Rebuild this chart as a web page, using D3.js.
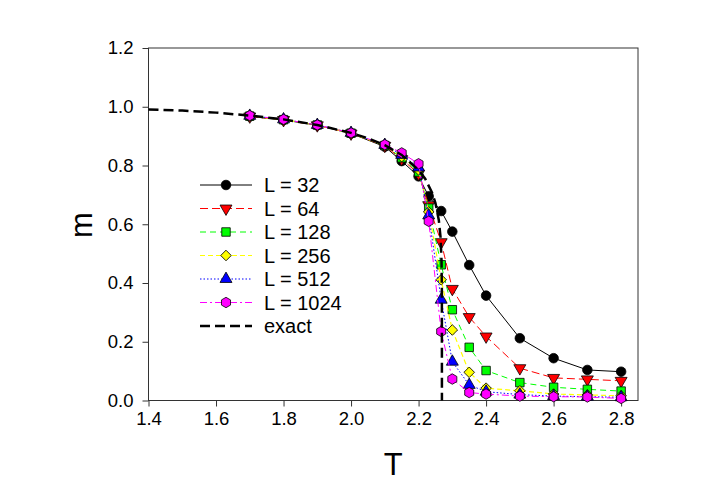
<!DOCTYPE html>
<html>
<head>
<meta charset="utf-8">
<script src="https://cdn.jsdelivr.net/npm/d3@7"></script>
<style>
  body { margin: 0; background: #fff; }
  text { font-family: Arial, "Liberation Sans", sans-serif; }
</style>
</head>
<body>
<svg id="chart"></svg>
<script>
// temperatures of the simulations
const temps = [1.7, 1.8, 1.9, 2.0, 2.1, 2.15, 2.2, 2.23, 2.267, 2.3, 2.35, 2.4, 2.5, 2.6, 2.7, 2.8];

const m32 = [0.967, 0.955, 0.937, 0.909, 0.864, 0.815, 0.763, 0.695, 0.645, 0.575, 0.461, 0.357, 0.212, 0.144, 0.104, 0.098];
const m64 = [0.967, 0.955, 0.937, 0.909, 0.867, 0.822, 0.772, 0.665, 0.539, 0.380, 0.284, 0.218, 0.110, 0.077, 0.072, 0.067];
const m128 = [0.968, 0.956, 0.938, 0.910, 0.868, 0.826, 0.778, 0.655, 0.462, 0.309, 0.181, 0.102, 0.061, 0.045, 0.038, 0.032];
const m256 = [0.968, 0.956, 0.938, 0.910, 0.869, 0.830, 0.785, 0.642, 0.411, 0.240, 0.096, 0.042, 0.033, 0.022, 0.019, 0.016];
const m512 = [0.969, 0.957, 0.938, 0.911, 0.870, 0.836, 0.793, 0.630, 0.343, 0.132, 0.053, 0.030, 0.020, 0.015, 0.013, 0.011];
const m1024 = [0.970, 0.957, 0.938, 0.911, 0.871, 0.843, 0.806, 0.610, 0.235, 0.073, 0.027, 0.022, 0.015, 0.013, 0.012, 0.007];

// exact (Onsager) curve
const exactT = [1.4, 1.5, 1.6, 1.7, 1.8, 1.9, 2.0, 2.05, 2.1, 2.15, 2.2, 2.22, 2.24, 2.25, 2.26, 2.265, 2.268, 2.269, 2.2692];
const exactM = [0.991, 0.987, 0.980, 0.970, 0.957, 0.938, 0.911, 0.893, 0.869, 0.836, 0.785, 0.754, 0.707, 0.672, 0.614, 0.557, 0.476, 0.377, 0.0];

const labels = ["L = 32", "L = 64", "L = 128", "L = 256", "L = 512", "L = 1024"];
const xTicks = [1.4, 1.6, 1.8, 2.0, 2.2, 2.4, 2.6, 2.8];
const yTicks = [0.0, 0.2, 0.4, 0.6, 0.8, 1.0, 1.2];

const W = 705, H = 498;
const plot = { left: 148.5, right: 638, top: 48, bottom: 400.5 };

const svg = d3.select("#chart").attr("width", W).attr("height", H);

const x = d3.scaleLinear().domain([1.4, 2.85]).range([plot.left, plot.right]);
const y = d3.scaleLinear().domain([0, 1.2]).range([plot.bottom, plot.top]);

// axes
const xAxis = svg.append("g")
  .attr("transform", `translate(0,${plot.bottom})`)
  .call(d3.axisBottom(x).tickValues(xTicks).tickFormat(d3.format(".1f")).tickSize(6).tickPadding(5));
const yAxis = svg.append("g")
  .attr("transform", `translate(${plot.left},0)`)
  .call(d3.axisLeft(y).tickValues(yTicks).tickFormat(d3.format(".1f")).tickSize(6).tickPadding(9));

[xAxis, yAxis].forEach((g) => {
  g.select(".domain").remove();
  g.selectAll(".tick line").attr("stroke", "#333");
  g.selectAll("text").attr("font-size", "18.5px").attr("fill", "#000")
    .attr("font-family", "Arial, 'Liberation Sans', sans-serif");
});

svg.append("rect")
  .attr("x", plot.left).attr("y", plot.top)
  .attr("width", plot.right - plot.left).attr("height", plot.bottom - plot.top)
  .attr("fill", "none").attr("stroke", "#333").attr("stroke-width", 1);

svg.append("text")
  .attr("x", (plot.left + plot.right) / 2 - 0)
  .attr("y", 475)
  .attr("text-anchor", "middle")
  .attr("font-size", "31px")
  .text("T");

svg.append("text")
  .attr("transform", "translate(92,225) rotate(-90)")
  .attr("text-anchor", "middle")
  .attr("font-size", "31px")
  .text("m");

// marker shapes
function hexagon(r) {
  const pts = d3.range(6).map((i) => {
    const a = Math.PI / 6 + i * Math.PI / 3;
    return [r * Math.cos(a), r * Math.sin(a)];
  });
  return "M" + pts.map((p) => p.join(",")).join("L") + "Z";
}
const tri = d3.symbol().type(d3.symbolTriangle).size(62)();
const series = [
  { vals: m32, color: "#000", dash: null, width: 1, shape: d3.symbol().type(d3.symbolCircle).size(72)(), rot: 0 },
  { vals: m64, color: "#ff0000", dash: "8,4", width: 1, shape: tri, rot: 180 },
  { vals: m128, color: "#00ff00", dash: "6,4", width: 1, shape: d3.symbol().type(d3.symbolSquare).size(72)(), rot: 0 },
  { vals: m256, color: "#ffff00", dash: "5,3", width: 1.2, shape: d3.symbol().type(d3.symbolSquare).size(56)(), rot: 45 },
  { vals: m512, color: "#0000ff", dash: "1.5,2", width: 1, shape: tri, rot: 0 },
  { vals: m1024, color: "#ff00ff", dash: "7,3,2,3", width: 1, shape: hexagon(5.2), rot: 0 }
];

const line = d3.line().x((d) => x(d[0])).y((d) => y(d[1]));

series.forEach((s) => {
  const pts = temps.map((t, i) => [t, s.vals[i]]);
  svg.append("path")
    .attr("d", line(pts))
    .attr("fill", "none")
    .attr("stroke", s.color)
    .attr("stroke-width", s.width)
    .attr("stroke-dasharray", s.dash);
  svg.append("g").selectAll("path").data(pts).enter().append("path")
    .attr("d", s.shape)
    .attr("transform", (d) => `translate(${x(d[0])},${y(d[1])}) rotate(${s.rot})`)
    .attr("fill", s.color)
    .attr("stroke", "#000")
    .attr("stroke-width", 0.8);
});

// exact curve
svg.append("path")
  .attr("d", line(exactT.map((t, i) => [t, exactM[i]])))
  .attr("fill", "none")
  .attr("stroke", "#000")
  .attr("stroke-width", 2.5)
  .attr("stroke-dasharray", "10,5");

// legend
const legend = svg.append("g");
const rowY = (i) => 185 + i * 23.5;
series.forEach((s, i) => {
  legend.append("line")
    .attr("x1", 200).attr("x2", 252).attr("y1", rowY(i)).attr("y2", rowY(i))
    .attr("stroke", s.color).attr("stroke-width", s.width).attr("stroke-dasharray", s.dash);
  legend.append("path")
    .attr("d", s.shape)
    .attr("transform", `translate(226,${rowY(i)}) rotate(${s.rot})`)
    .attr("fill", s.color).attr("stroke", "#000").attr("stroke-width", 0.8);
  legend.append("text")
    .attr("x", 264).attr("y", rowY(i) + 7)
    .attr("font-size", "20px")
    .text(labels[i]);
});
legend.append("line")
  .attr("x1", 200).attr("x2", 252).attr("y1", rowY(6)).attr("y2", rowY(6))
  .attr("stroke", "#000").attr("stroke-width", 2.5).attr("stroke-dasharray", "10,5");
legend.append("text")
  .attr("x", 264).attr("y", rowY(6) + 7)
  .attr("font-size", "20px")
  .text("exact");
</script>
</body>
</html>
